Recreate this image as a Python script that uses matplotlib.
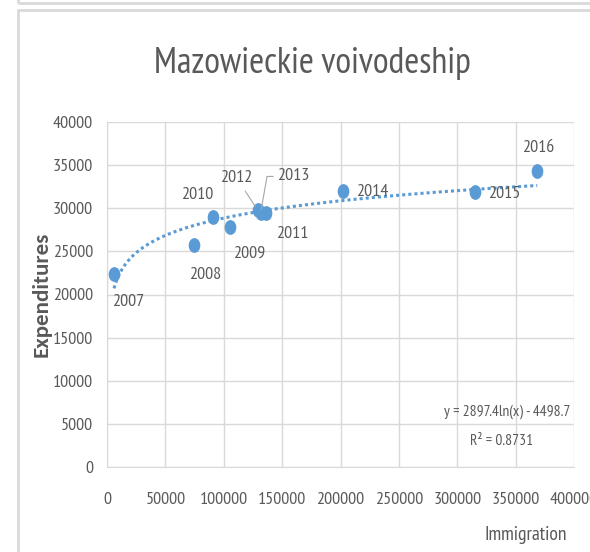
import matplotlib as mpl
import matplotlib.pyplot as plt
import numpy as np
from matplotlib.patches import Rectangle
from matplotlib.path import Path
from matplotlib.transforms import Affine2D

mpl.rcParams.update({
    "font.family": ["PT Sans Narrow", "DejaVu Sans"],
    "text.color": "#595959",
    "xtick.color": "#595959",
    "ytick.color": "#595959",
})

# data
years = ["2007", "2008", "2009", "2010", "2011", "2012", "2013", "2014", "2015", "2016"]
immigration = [6000, 74500, 105500, 91000, 136500, 129000, 131500, 202000, 315500, 368500]
expenditures = [22400, 25750, 27800, 28950, 29400, 29800, 29400, 32050, 31850, 34300]
trend_a = 2897.4
trend_b = -4498.7
r_squared = 0.8731

# label offsets from each point, in pixels (dx right, dy up)
label_off = {
    "2007": (14, -28),
    "2008": (11, -30),
    "2009": (19, -26),
    "2010": (-16, 22),
    "2011": (26, -21),
    "2012": (-21, 32),
    "2013": (33, 37),
    "2014": (29, -1),
    "2015": (29, -2),
    "2016": (1, 23),
}

blue = "#5B9BD5"
grid_c = "#d9d9d9"
PX = 0.72  # points per pixel at 100 dpi

fig = plt.figure(figsize=(5.9, 5.52), dpi=100)
fig.patch.set_facecolor("white")

# outer chart frames (Excel style)
fig.add_artist(Rectangle((18 / 590, 1 - 3 / 552), 1.2, 0.1, transform=fig.transFigure,
                         fill=False, edgecolor=grid_c, linewidth=2.0))
fig.add_artist(Rectangle((18 / 590, -0.1), 1.2, 1 - 10 / 552 + 0.1, transform=fig.transFigure,
                         fill=False, edgecolor=grid_c, linewidth=2.0))

ax = fig.add_axes([107 / 590, 1 - 467 / 552, 467 / 590, 345 / 552])
ax.set_xlim(0, 400000)
ax.set_ylim(0, 40000)
ax.set_xticks(np.arange(0, 400001, 50000))
ax.set_yticks(np.arange(0, 40001, 5000))
ax.grid(True, color=grid_c, linewidth=1.0)
ax.set_axisbelow(True)
for side in ["top", "right"]:
    ax.spines[side].set_visible(False)
ax.spines["left"].set_color(grid_c)
ax.spines["bottom"].set_color(grid_c)
ax.tick_params(length=0, labelsize=13)
ax.tick_params(axis="y", pad=10)
ax.tick_params(axis="x", pad=18)

xs = np.linspace(min(immigration), max(immigration), 400)
ax.plot(xs, trend_a * np.log(xs) + trend_b, color=blue, linewidth=2.2,
        linestyle=(0, (1, 1)), zorder=2)

# slightly narrow ellipse marker, as in the reference
oval = Path.unit_circle().transformed(Affine2D().scale(0.77, 1.0))
ax.plot(immigration, expenditures, linestyle="none", marker=oval, color=blue,
        markersize=9.6, zorder=3)

for yr, x, y in zip(years, immigration, expenditures):
    dx, dy = label_off[yr]
    kw = dict(xytext=(dx * PX, dy * PX), textcoords="offset points",
              ha="center", va="center", fontsize=13)
    if yr == "2012":
        kw["arrowprops"] = dict(arrowstyle="-", color="#a6a6a6", lw=0.8,
                                shrinkA=2, shrinkB=3)
    elif yr == "2013":
        kw["arrowprops"] = dict(arrowstyle="-", color="#a6a6a6", lw=0.8,
                                shrinkA=1, shrinkB=3,
                                connectionstyle="angle,angleA=0,angleB=80,rad=0")
    ax.annotate(yr, (x, y), **kw)

fig.text(507 / 590, 1 - 412 / 552, f"y = {trend_a}ln(x) - {abs(trend_b)}",
         ha="center", va="center", fontsize=11.2)
fig.text(502 / 590, 1 - 441 / 552, f"R² = {r_squared}",
         ha="center", va="center", fontsize=11.2)

fig.text(312 / 590, 1 - 63 / 552, "Mazowieckie voivodeship", ha="center", va="center",
         fontsize=26)
fig.text(42 / 590, 1 - 294 / 552, "Expenditures", rotation=90, ha="center", va="center",
         fontsize=16.5, fontweight="bold", family=["Carlito", "DejaVu Sans"])
fig.text(526 / 590, 1 - 535 / 552, "Immigration", ha="center", va="center", fontsize=14)

fig.savefig("out.png", dpi=100, facecolor="white")
